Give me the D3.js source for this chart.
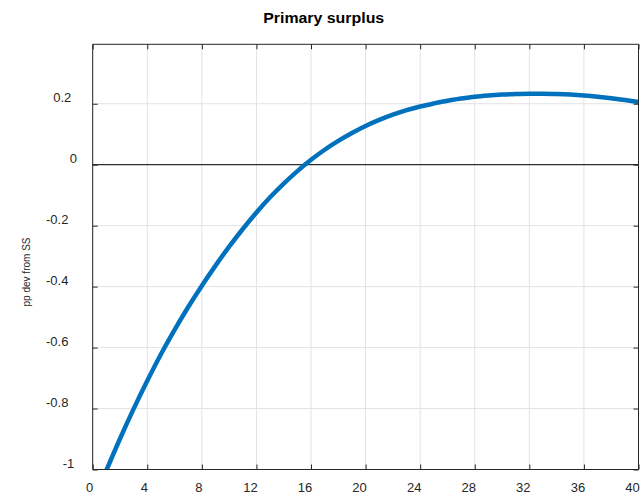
<!DOCTYPE html>
<html><head><meta charset="utf-8">
<script src="https://cdn.jsdelivr.net/npm/d3@7"></script>
<style>body{margin:0;background:#fff}svg{display:block}text{font-family:"Liberation Sans",Arial,sans-serif}</style>
</head><body>
<script>
const quarters = d3.range(1, 41);
const surplus = [-1.003,-0.899,-0.801,-0.709,-0.622,-0.542,-0.467,-0.397,-0.331,-0.269,
 -0.211,-0.157,-0.107,-0.062,-0.021,0.016,0.049,0.078,0.104,0.127,
 0.147,0.164,0.179,0.191,0.201,0.210,0.217,0.223,0.227,0.230,
 0.232,0.233,0.233,0.232,0.230,0.227,0.223,0.218,0.212,0.206];
const xTicks = [0,4,8,12,16,20,24,28,32,36,40];
const yTicks = [-1,-0.8,-0.6,-0.4,-0.2,0,0.2];
const yTickLabels = ["-1","-0.8","-0.6","-0.4","-0.2","0","0.2"];
const title = "Primary surplus";
const yLabel = "pp dev from SS";

const W=641,H=497, L=92.7, R=638.5, T=44.3, B=469.5;
const svg=d3.select("body").append("svg").attr("width",W).attr("height",H);
const x=d3.scaleLinear().domain([0,40]).range([L,R]);
const y=d3.scaleLinear().domain([-1,0.395]).range([B,T]);
const axCol="#262626", gridCol="#e3e3e3";
const fs=13;

const g=svg.append("g");
// grid
g.selectAll(".gx").data(xTicks).join("line").attr("x1",d=>x(d)).attr("x2",d=>x(d)).attr("y1",T).attr("y2",B).attr("stroke",gridCol).attr("stroke-width",1);
g.selectAll(".gy").data(yTicks).join("line").attr("y1",d=>y(d)).attr("y2",d=>y(d)).attr("x1",L).attr("x2",R).attr("stroke",gridCol).attr("stroke-width",1);
// zero line
g.append("line").attr("x1",L).attr("x2",R).attr("y1",y(0)).attr("y2",y(0)).attr("stroke","#000").attr("stroke-width",1);

// curve
svg.append("defs").append("clipPath").attr("id","clip").append("rect").attr("x",L).attr("y",T).attr("width",R-L).attr("height",B-T);
const data=quarters.map((q,i)=>[q,surplus[i]]);
g.append("path").datum(data).attr("clip-path","url(#clip)")
 .attr("d",d3.line().x(d=>x(d[0])).y(d=>y(d[1])).curve(d3.curveMonotoneX))
 .attr("fill","none").attr("stroke","#0072BD").attr("stroke-width",4.5);

// axes with inward ticks (labels drawn separately)
const tl=5;
function style(sel){sel.select(".domain").attr("stroke",axCol);sel.selectAll(".tick line").attr("stroke",axCol);}
g.append("g").attr("transform",`translate(0,${B})`).call(d3.axisBottom(x).tickValues(xTicks).tickSize(-tl).tickFormat("")).call(style).call(s=>s.select(".domain").attr("d",`M${L},0H${R}`));
g.append("g").attr("transform",`translate(0,${T})`).call(d3.axisTop(x).tickValues(xTicks).tickSize(-tl).tickFormat("")).call(style).call(s=>s.select(".domain").attr("d",`M${L},0H${R}`));
g.append("g").attr("transform",`translate(${L},0)`).call(d3.axisLeft(y).tickValues(yTicks).tickSize(-tl).tickFormat("")).call(style).call(s=>s.select(".domain").attr("d",`M0,${T}V${B}`));
g.append("g").attr("transform",`translate(${R},0)`).call(d3.axisRight(y).tickValues(yTicks).tickSize(-tl).tickFormat("")).call(style).call(s=>s.select(".domain").attr("d",`M0,${T}V${B}`));

// x tick labels
svg.selectAll(".xl").data(xTicks).join("text")
 .attr("x",d=>x(d)-3*String(d).length).attr("y",B+22).attr("text-anchor","middle")
 .attr("font-size",fs).attr("fill","#262626").text(d=>String(d));
// y tick labels
svg.selectAll(".yl").data(yTicks).join("text")
 .attr("x",(d,i)=>80-2.9*yTickLabels[i].length).attr("y",d=>y(d)-6).attr("dy","0.35em").attr("text-anchor","end")
 .attr("font-size",fs).attr("fill","#262626").text((d,i)=>yTickLabels[i]);

svg.append("text").attr("x",323.7).attr("y",23).attr("text-anchor","middle").attr("font-size","14px").attr("font-weight","bold").attr("fill","#000")
 .attr("textLength",121).attr("lengthAdjust","spacingAndGlyphs").text(title);
svg.append("text").attr("transform",`translate(30,272) rotate(-90)`).attr("text-anchor","middle").attr("font-size","10px").attr("fill","#262626")
 .text(yLabel);
</script>
</body></html>
